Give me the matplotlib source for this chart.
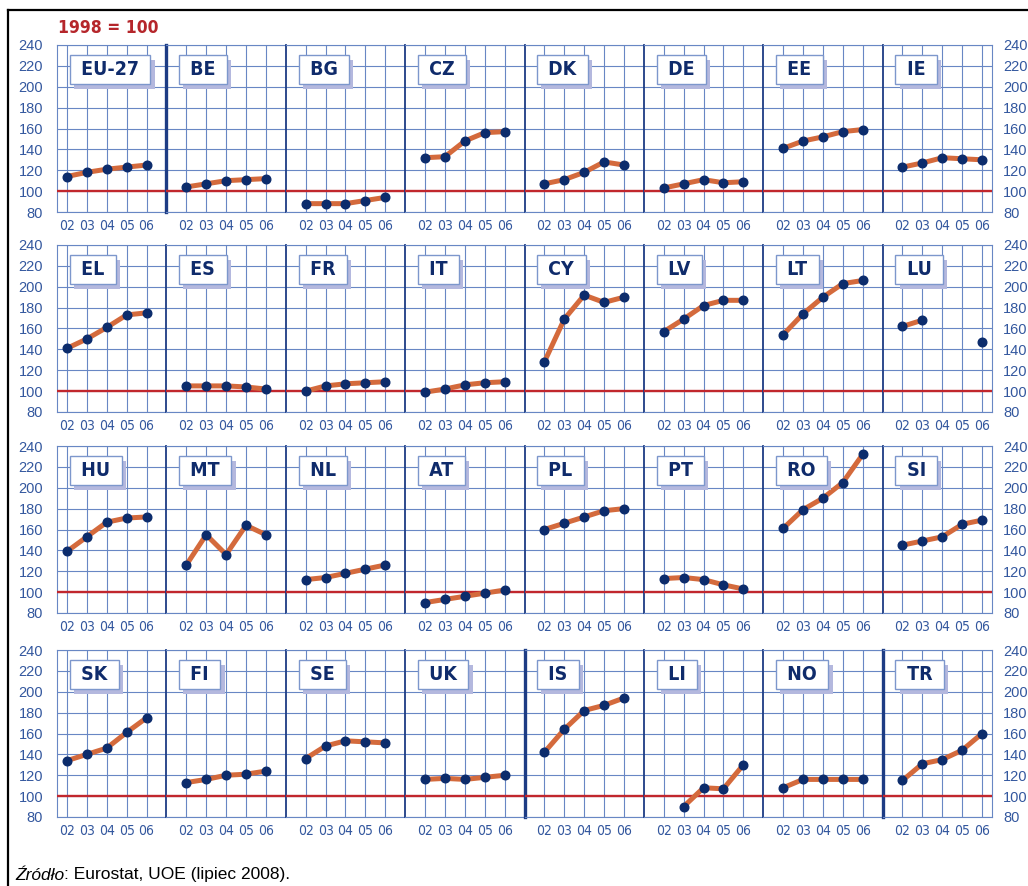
"""Education spending index 1998 = 100, small multiples by country (2002-2006)."""
import numpy as np
import matplotlib
matplotlib.use("Agg")
import matplotlib.pyplot as plt
from matplotlib import patheffects
from matplotlib.lines import Line2D
from matplotlib.text import Annotation
from matplotlib import font_manager

years = [2, 3, 4, 5, 6]
year_labels = ["02", "03", "04", "05", "06"]
y_ticks = [80, 100, 120, 140, 160, 180, 200, 220, 240]
nan = np.nan

# values, index 1998 = 100
eu27 = [114, 118, 121, 123, 125]
be = [104, 107, 110, 111, 112]
bg = [88, 88, 88, 91, 94]
cz = [132, 133, 148, 156, 157]
dk = [107, 111, 118, 128, 125]
de = [103, 107, 111, 108, 109]
ee = [141, 148, 152, 157, 159]
ie = [123, 127, 132, 131, 130]
el = [141, 150, 161, 173, 175]
es = [105, 105, 105, 104, 102]
fr = [100, 105, 107, 108, 109]
it = [99, 102, 106, 108, 109]
cy = [128, 169, 192, 185, 190]
lv = [157, 169, 182, 187, 187]
lt = [154, 174, 190, 203, 206]
lu = [162, 168, nan, nan, 147]
hu = [139, 153, 167, 171, 172]
mt = [126, 155, 136, 164, 155]
nl = [112, 114, 118, 122, 126]
at = [90, 93, 96, 99, 102]
pl = [160, 166, 172, 178, 180]
pt = [113, 114, 112, 107, 103]
ro = [161, 179, 190, 205, 232]
si = [145, 149, 153, 165, 169]
sk = [134, 140, 146, 161, 175]
fi = [113, 116, 120, 121, 124]
se = [136, 148, 153, 152, 151]
uk = [116, 117, 116, 118, 120]
is_ = [142, 164, 182, 187, 194]
li = [nan, 90, 108, 107, 130]
no = [108, 116, 116, 116, 116]
tr = [115, 131, 135, 144, 160]

rows = [
    [("EU-27", eu27), ("BE", be), ("BG", bg), ("CZ", cz), ("DK", dk), ("DE", de), ("EE", ee), ("IE", ie)],
    [("EL", el), ("ES", es), ("FR", fr), ("IT", it), ("CY", cy), ("LV", lv), ("LT", lt), ("LU", lu)],
    [("HU", hu), ("MT", mt), ("NL", nl), ("AT", at), ("PL", pl), ("PT", pt), ("RO", ro), ("SI", si)],
    [("SK", sk), ("FI", fi), ("SE", se), ("UK", uk), ("IS", is_), ("LI", li), ("NO", no), ("TR", tr)],
]
thick_before = {"BE", "IS", "TR"}

GRID = "#6887c4"
SEP = "#1d3c84"
RED = "#c1272d"
LINE = "#d46a3c"
DOT = "#0c2c6c"
TICK = "#33579e"
LABEL = "#0f2b6b"
BOX_EDGE = "#7d97cc"
SHADOW = "#b4b8de"

cond = font_manager.FontProperties(family="DejaVu Sans", stretch="condensed")
cond_bold = font_manager.FontProperties(family="DejaVu Sans", stretch="condensed", weight="bold")

W, H = 1028, 886
fig = plt.figure(figsize=(W / 100, H / 100), dpi=100)
unit = 935 / 47
x0 = 57
row_tops = [45, 245, 446, 650]
row_h = 167

for r, row in enumerate(rows):
    start = 0.0
    for i, (name, vals) in enumerate(row):
        lo = 1.5 if i == 0 else 1
        hi = 6.5 if i == 7 else 7
        span = hi - lo
        ax = fig.add_axes([(x0 + start * unit) / W, 1 - (row_tops[r] + row_h) / H, span * unit / W, row_h / H])
        start += span
        ax.set_xlim(lo, hi)
        ax.set_ylim(80, 240)
        ax.set_xticks(years, year_labels)
        ax.set_yticks(y_ticks)
        ax.grid(color=GRID, lw=0.8)
        ax.set_axisbelow(True)
        for side in ("left", "right"):
            ax.spines[side].set_visible(False)
        for side in ("top", "bottom"):
            ax.spines[side].set_color(GRID)
            ax.spines[side].set_linewidth(0.8)
        ax.tick_params(length=0, colors=TICK)
        ax.tick_params(axis="x", pad=5)
        for lab in ax.get_xticklabels():
            lab.set_fontproperties(cond)
            lab.set_fontsize(10)
        if i == 0:
            ax.spines["left"].set_visible(True)
            ax.spines["left"].set_color(GRID)
            ax.tick_params(axis="y", pad=10, labelsize=10.5)
        elif i == 7:
            ax.spines["right"].set_visible(True)
            ax.spines["right"].set_color(GRID)
            ax.yaxis.tick_right()
            ax.tick_params(axis="y", pad=8, labelsize=10.5, length=0)
        else:
            ax.tick_params(axis="y", labelleft=False)
        for lab in ax.get_yticklabels():
            lab.set_family(["Liberation Sans", "DejaVu Sans"])
        if i > 0:
            ax.axvline(1, color=SEP, lw=2.4 if name in thick_before else 1.3, clip_on=False, zorder=2.5)
        ax.axhline(100, color=RED, lw=1.7, zorder=3)
        ax.plot(years, vals, color=LINE, lw=3.6, solid_capstyle="round", zorder=4)
        ax.plot(years, vals, "o", color=DOT, ms=6.2, zorder=5)

        # country label box with a soft drop shadow
        t = ax.text(18 / (span * unit), 1 - 24.5 / row_h, f" {name} ", transform=ax.transAxes, color=LABEL,
                    fontproperties=cond_bold, fontsize=14, ha="left", va="center", zorder=6,
                    bbox=dict(boxstyle="square,pad=0.27", fc="white", ec=BOX_EDGE, lw=1))
        t.get_bbox_patch().set_path_effects([
            patheffects.SimplePatchShadow(offset=(3, -3.6), shadow_rgbFace=SHADOW, alpha=1),
            patheffects.Normal(),
        ])

fig.text(58 / W, 1 - 28 / H, "1998 = 100", color="#b5262b", fontproperties=cond_bold, fontsize=12.5, va="center")

t1 = fig.text(15 / W, 1 - 875 / H, "Źródło", style="italic", family="Liberation Sans", fontsize=12.5, va="center")
fig.add_artist(Annotation(": Eurostat, UOE (lipiec 2008).", xy=(1, 0), xycoords=t1, va="bottom", ha="left",
                          family="Liberation Sans", fontsize=12.5))

fig.add_artist(Line2D([8 / W, 8 / W], [0, 1 - 10 / H], color="black", lw=1.6, transform=fig.transFigure))
fig.add_artist(Line2D([8 / W, 1], [1 - 10 / H, 1 - 10 / H], color="black", lw=1.6, transform=fig.transFigure))

fig.savefig("out.png", dpi=100)
